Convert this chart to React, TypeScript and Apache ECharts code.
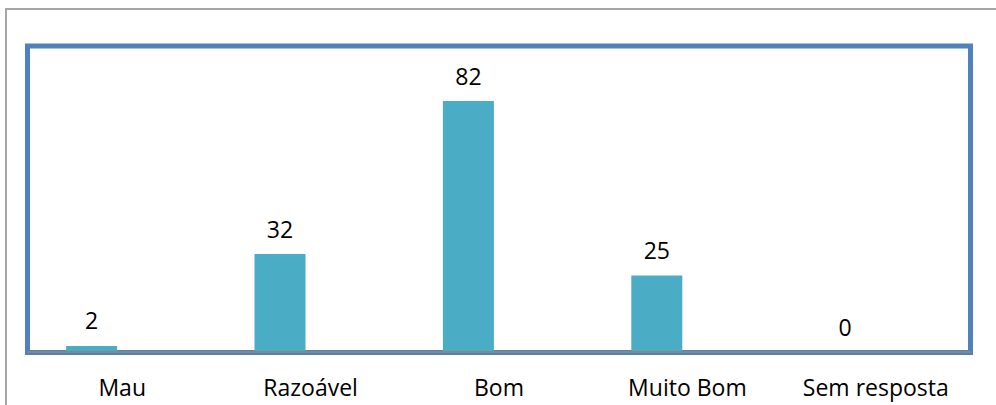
import React, { useEffect, useRef } from "react";
import * as echarts from "echarts";

const categories = ["Mau", "Razoável", "Bom", "Muito Bom", "Sem resposta"];
const values = [2, 32, 82, 25, 0];
const emptySeries = [null, null, null, null, null];

export default function App() {
  const ref = useRef<HTMLDivElement>(null);
  useEffect(() => {
    if (!ref.current) return;
    const chart = echarts.init(ref.current, null, { renderer: "svg" });
    const font = "'Open Sans', 'Noto Sans', sans-serif";
    chart.setOption({
      animation: false,
      backgroundColor: "#ffffff",
      textStyle: { fontFamily: font },
      grid: { left: 28, right: 26, top: 46, bottom: 53, containLabel: false },
      graphic: [
        {
          type: "rect",
          shape: { x: 6, y: 9, width: 1100, height: 600 },
          style: { fill: "none", stroke: "#A6A6A6", lineWidth: 2 },
          z: -10,
          silent: true,
        },
        {
          type: "rect",
          shape: { x: 27.5, y: 46, width: 943, height: 306.5 },
          style: { fill: "none", stroke: "#4F81BD", lineWidth: 5 },
          z: 0,
          silent: true,
        },
      ],
      xAxis: {
        type: "category",
        data: categories,
        axisLine: { show: true, lineStyle: { color: "#868686", width: 2 } },
        axisTick: { show: false },
        axisLabel: { color: "#000000", fontSize: 23, fontFamily: font, margin: 23, interval: 0 },
        z: 5,
      },
      yAxis: {
        type: "value",
        min: 0,
        max: 100,
        show: false,
        splitLine: { show: false },
      },
      series: [
        {
          type: "bar",
          data: values,
          barWidth: 51,
          barGap: "20%",
          itemStyle: { color: "#4BACC6" },
          label: {
            show: true,
            position: "top",
            distance: 14,
            color: "#000000",
            fontSize: 23,
            fontFamily: font,
          },
          z: 3,
        },
        {
          type: "bar",
          data: emptySeries,
          barWidth: 51,
          silent: true,
        },
      ],
    });
    return () => chart.dispose();
  }, []);
  return (
    <div
      ref={ref}
      style={{ position: "fixed", left: 0, top: 0, width: 996, height: 405 }}
    />
  );
}
